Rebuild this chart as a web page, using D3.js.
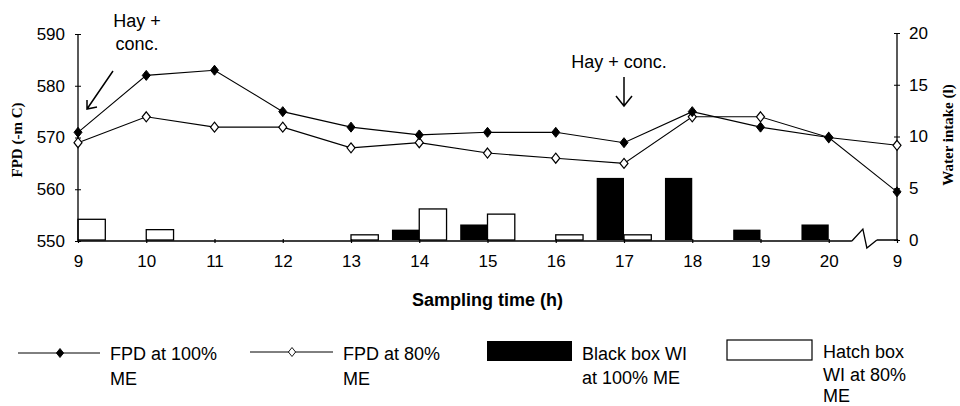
<!DOCTYPE html>
<html>
<head>
<meta charset="utf-8">
<script src="https://cdn.jsdelivr.net/npm/d3@7"></script>
<style>
  body { margin: 0; background: #fff; }
  text { font-family: "Liberation Sans", Arial, sans-serif; fill: #000; }
</style>
</head>
<body>
<div id="chart"></div>
<script>
// sampling times (h), the last one is 9 h of the next day
var times = ["9", "10", "11", "12", "13", "14", "15", "16", "17", "18", "19", "20", "9"];
// freezing point depression (-m C)
var fpd100 = [571, 582, 583, 575, 572, 570.5, 571, 571, 569, 575, 572, 570, 559.5];
var fpd80 = [569, 574, 572, 572, 568, 569, 567, 566, 565, 574, 574, 570, 568.5];
// water intake (l)
var wi100 = [0, 0, 0, 0, 0, 1, 1.5, 0, 6, 6, 1, 1.5, 0];
var wi80 = [2, 1, 0, 0, 0.5, 3, 2.5, 0.5, 0.5, 0, 0, 0, 0];
var fpdTicks = [550, 560, 570, 580, 590];
var wiTicks = [0, 5, 10, 15, 20];

var width = 960, height = 406;
var svg = d3.select("#chart").append("svg")
	.attr("width", width)
	.attr("height", height);

var x = d3.scalePoint()
	.domain(d3.range(times.length))
	.range([78, 897]);
var yL = d3.scaleLinear().domain([550, 590]).range([241, 34]);
var yR = d3.scaleLinear().domain([0, 20]).range([240, 33]);
var step = x.step();
var barW = step * 0.4;

// bars: black left of the tick, white right of it
svg.selectAll("rect.b100")
	.data(wi100.map(function(v, i) { return {i: i, v: v}; }).filter(function(d) { return d.v > 0; }))
	.enter().append("rect")
	.attr("x", function(d) { return x(d.i) - barW; })
	.attr("y", function(d) { return yR(d.v); })
	.attr("width", barW)
	.attr("height", function(d) { return yR(0) - yR(d.v); })
	.attr("fill", "#000");

svg.selectAll("rect.b80")
	.data(wi80.map(function(v, i) { return {i: i, v: v}; }).filter(function(d) { return d.v > 0; }))
	.enter().append("rect")
	.attr("x", function(d) { return x(d.i); })
	.attr("y", function(d) { return yR(d.v); })
	.attr("width", barW)
	.attr("height", function(d) { return yR(0) - yR(d.v); })
	.attr("fill", "#fff")
	.attr("stroke", "#000")
	.attr("stroke-width", 1.3);

// x axis with the break between 20 and 9
var xAxis = d3.axisBottom(x)
	.tickFormat(function(i) { return times[i]; })
	.tickSize(2)
	.tickPadding(12);
var gx = svg.append("g")
	.attr("transform", "translate(0," + yL(550) + ")")
	.call(xAxis);
gx.select(".domain").remove();
gx.selectAll(".tick line").attr("y1", -2).attr("stroke-width", 1.2);
gx.selectAll(".tick text").style("font-size", "17px").attr("fill", "#000");
var brk = (x(11) + x(12)) / 2;
gx.append("path")
	.attr("d", "M" + x(0) + ",0H" + (brk - 11) + "M" + (brk + 14) + ",-1H" + x(12))
	.attr("stroke", "#000").attr("stroke-width", 1.3).attr("fill", "none");
gx.append("path")
	.attr("d", "M" + (brk - 11) + ",0L" + brk + ",-12L" + (brk + 4) + ",7L" + (brk + 14) + ",-1")
	.attr("stroke", "#000").attr("stroke-width", 1.3).attr("fill", "none");

// left axis
var gl = svg.append("g")
	.attr("transform", "translate(" + x(0) + ",0)")
	.call(d3.axisLeft(yL).tickValues(fpdTicks).tickSize(3).tickPadding(10));
gl.select(".domain").attr("d", "M0," + yL(550) + "V" + yL(590)).attr("stroke-width", 1.3);
gl.selectAll(".tick line").attr("x2", 3).attr("x1", -3);
gl.selectAll(".tick text").style("font-size", "17px").attr("fill", "#000");

// right axis
var gr = svg.append("g")
	.attr("transform", "translate(" + x(12) + ",0)")
	.call(d3.axisRight(yR).tickValues(wiTicks).tickSize(3).tickPadding(9));
gr.select(".domain").attr("d", "M0," + yR(0) + "V" + yR(20)).attr("stroke-width", 1.3);
gr.selectAll(".tick line").attr("x1", -3).attr("x2", 3);
gr.selectAll(".tick text").style("font-size", "17px").attr("fill", "#000");

// lines
var line = d3.line()
	.x(function(d, i) { return x(i); })
	.y(function(d) { return yL(d); });
var diamond = "M0,-5L4,0L0,5L-4,0Z";

svg.append("path").datum(fpd80)
	.attr("d", line).attr("fill", "none").attr("stroke", "#000").attr("stroke-width", 1.1);
svg.append("path").datum(fpd100)
	.attr("d", line).attr("fill", "none").attr("stroke", "#000").attr("stroke-width", 1.1);

svg.selectAll("path.m80").data(fpd80).enter().append("path")
	.attr("d", diamond)
	.attr("transform", function(d, i) { return "translate(" + x(i) + "," + yL(d) + ")"; })
	.attr("fill", "#fff").attr("stroke", "#000").attr("stroke-width", 1.2);
svg.selectAll("path.m100").data(fpd100).enter().append("path")
	.attr("d", diamond)
	.attr("transform", function(d, i) { return "translate(" + x(i) + "," + yL(d) + ")"; })
	.attr("fill", "#000").attr("stroke", "#000").attr("stroke-width", 1);

// axis titles
svg.append("text")
	.attr("transform", "translate(22," + 140 + ") rotate(-90)")
	.attr("text-anchor", "middle")
	.style("font-family", "'Liberation Serif', 'Times New Roman', serif")
	.style("font-weight", "bold")
	.style("font-size", "15px")
	.text("FPD (-m C)");
svg.append("text")
	.attr("transform", "translate(953," + 135 + ") rotate(-90)")
	.attr("text-anchor", "middle")
	.style("font-family", "'Liberation Serif', 'Times New Roman', serif")
	.style("font-weight", "bold")
	.style("font-size", "15px")
	.text("Water intake (l)");
svg.append("text")
	.attr("x", (x(0) + x(12)) / 2)
	.attr("y", 306)
	.attr("text-anchor", "middle")
	.style("font-weight", "bold")
	.style("font-size", "18px")
	.text("Sampling time (h)");

// feeding annotations
svg.append("text").attr("x", 137).attr("y", 27).attr("text-anchor", "middle")
	.style("font-size", "18px").text("Hay +");
svg.append("text").attr("x", 137).attr("y", 50).attr("text-anchor", "middle")
	.style("font-size", "18px").text("conc.");
var ax0 = x(0) + 9, ay0 = yL(575.5);
svg.append("path")
	.attr("d", "M" + (ax0 + 26) + "," + (ay0 - 38) + "L" + ax0 + "," + ay0 +
		"M" + ax0 + "," + (ay0 - 9) + "L" + ax0 + "," + ay0 + "L" + (ax0 + 10) + "," + (ay0 - 2))
	.attr("stroke", "#000").attr("stroke-width", 1.5).attr("fill", "none");

svg.append("text").attr("x", x(8) - 5).attr("y", 68).attr("text-anchor", "middle")
	.style("font-size", "18px").text("Hay + conc.");
var ax1 = x(8);
svg.append("path")
	.attr("d", "M" + ax1 + ",77V106M" + (ax1 - 8) + ",96L" + ax1 + ",106L" + (ax1 + 8) + ",96")
	.attr("stroke", "#000").attr("stroke-width", 1.5).attr("fill", "none");

// legend
var lg = svg.append("g").style("font-size", "18px");
lg.append("line").attr("x1", 18).attr("x2", 100).attr("y1", 353).attr("y2", 353).attr("stroke", "#000");
lg.append("path").attr("d", diamond).attr("transform", "translate(60,353) scale(0.9)").attr("fill", "#000").attr("stroke", "#000");
lg.append("text").attr("x", 110).attr("y", 360).text("FPD at 100%");
lg.append("text").attr("x", 110).attr("y", 385).text("ME");

lg.append("line").attr("x1", 250).attr("x2", 333).attr("y1", 352).attr("y2", 352).attr("stroke", "#000");
lg.append("path").attr("d", diamond).attr("transform", "translate(292,352) scale(0.9)").attr("fill", "#fff").attr("stroke", "#000");
lg.append("text").attr("x", 343).attr("y", 360).text("FPD at 80%");
lg.append("text").attr("x", 343).attr("y", 385).text("ME");

lg.append("rect").attr("x", 487).attr("y", 341).attr("width", 85).attr("height", 20).attr("fill", "#000");
lg.append("text").attr("x", 582).attr("y", 360).text("Black box WI");
lg.append("text").attr("x", 582).attr("y", 384).text("at 100% ME");

lg.append("rect").attr("x", 727).attr("y", 340).attr("width", 85).attr("height", 20)
	.attr("fill", "#fff").attr("stroke", "#000").attr("stroke-width", 1.2);
lg.append("text").attr("x", 823).attr("y", 358).text("Hatch box");
lg.append("text").attr("x", 823).attr("y", 381).text("WI at 80%");
lg.append("text").attr("x", 823).attr("y", 402).text("ME");
</script>
</body>
</html>
